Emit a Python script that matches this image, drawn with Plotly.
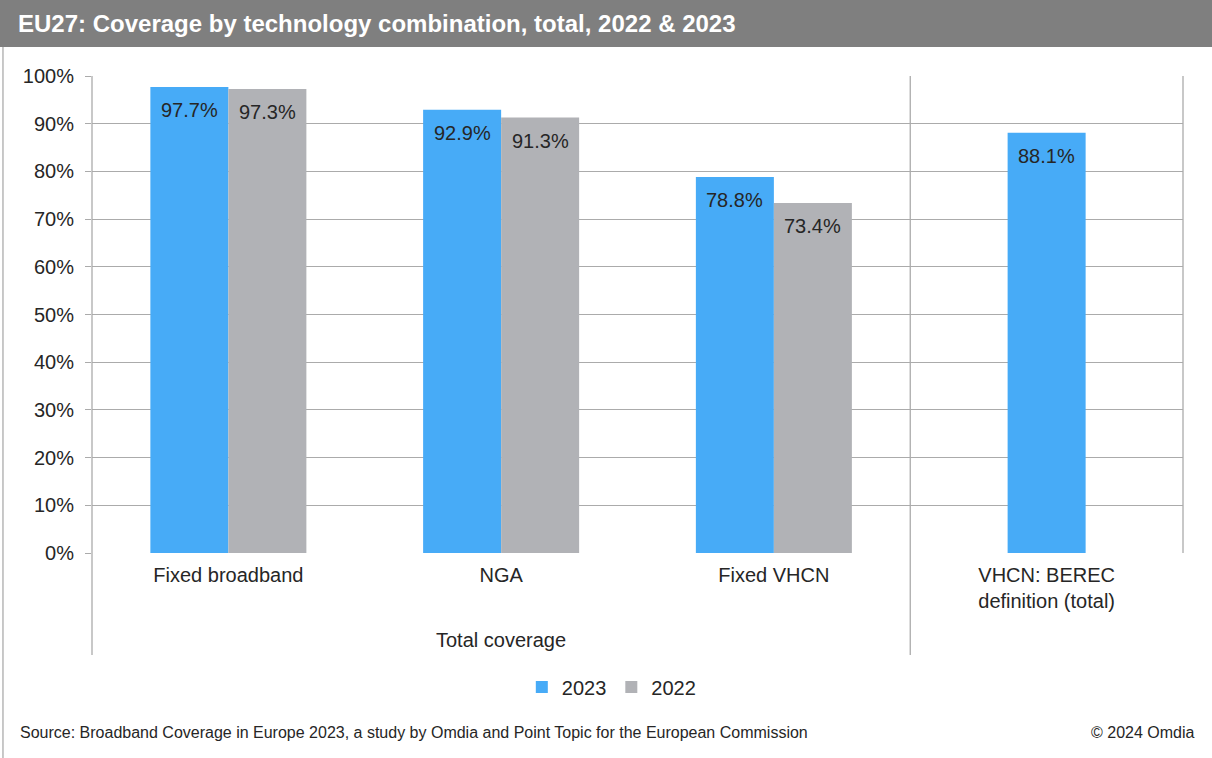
import plotly.graph_objects as go

# Coverage categories and values (% of households)
categories = ["Fixed broadband", "NGA", "Fixed VHCN", "VHCN: BEREC<br>definition (total)"]
cov_2023 = [97.7, 92.9, 78.8, 88.1]
cov_2022 = [97.3, 91.3, 73.4, None]
y_ticks = [0, 10, 20, 30, 40, 50, 60, 70, 80, 90, 100]

BLUE = "#47abf7"
GREY = "#b1b2b6"
TEXT = "#262626"
LINE = "#ababab"
FONT = "Liberation Sans, Arial, sans-serif"
NARROW = "Liberation Sans Narrow, Arial Narrow, Liberation Sans, sans-serif"
FS = 20

W = 0.286  # bar width in category units
xs = list(range(len(categories)))

# 2023 sits left of centre where a 2022 bar exists, centred otherwise
off_2023 = [-W if v is not None else -W / 2 for v in cov_2022]
off_2022 = [0.0 for _ in cov_2022]

fig = go.Figure()
fig.add_trace(go.Bar(x=xs, y=cov_2023, name="2023", marker_color=BLUE,
                     width=W, offset=off_2023, marker_line_width=0))
fig.add_trace(go.Bar(x=xs, y=cov_2022, name="2022", marker_color=GREY,
                     width=W, offset=off_2022, marker_line_width=0))

annotations = []
for series, offsets in ((cov_2023, off_2023), (cov_2022, off_2022)):
    for i, (v, o) in enumerate(zip(series, offsets)):
        if v is None:
            continue
        annotations.append(dict(x=i + o + W / 2, y=v, xref="x", yref="y", text=f"{v:.1f}%",
                                showarrow=False, yshift=-23,
                                font=dict(family=FONT, size=FS, color=TEXT)))

# Group label and footer
annotations.append(dict(x=1, y=-0.182, xref="x", yref="paper", text="Total coverage", showarrow=False,
                        yanchor="middle", font=dict(family=FONT, size=FS, color=TEXT)))
annotations.append(dict(x=-0.0678, y=-0.377, xref="paper", yref="paper", xanchor="left", yanchor="middle",
                        text="Source: Broadband Coverage in Europe 2023, a study by Omdia and Point Topic for the European Commission",
                        showarrow=False, font=dict(family=NARROW, size=16, color=TEXT)))
annotations.append(dict(x=1.0128, y=-0.377, xref="paper", yref="paper", xanchor="right", yanchor="middle",
                        text="© 2024 Omdia", showarrow=False, font=dict(family=NARROW, size=16, color=TEXT)))

shapes = [
    # title band
    dict(type="rect", xref="paper", yref="paper", x0=-0.1, x1=1.05, y0=1.0608, y1=1.2,
         fillcolor="#7f7f7f", line_width=0, layer="below"),
    # outer left frame
    dict(type="line", xref="paper", yref="paper", x0=-0.0816, x1=-0.0816, y0=-0.44, y1=1.0608,
         line=dict(color=LINE, width=1.3)),
    # left axis extended under category labels
    dict(type="line", xref="paper", yref="paper", x0=0, x1=0, y0=-0.214, y1=1,
         line=dict(color=LINE, width=1.3)),
    # divider between group sections
    dict(type="line", xref="x", yref="paper", x0=2.5, x1=2.5, y0=-0.214, y1=1,
         line=dict(color=LINE, width=1.3)),
    # right plot border
    dict(type="line", xref="paper", yref="paper", x0=1, x1=1, y0=0, y1=1,
         line=dict(color=LINE, width=1.3)),
]

fig.update_layout(
    width=1212, height=758,
    margin=dict(l=92, r=29, t=76, b=205),
    paper_bgcolor="white", plot_bgcolor="white",
    barmode="overlay",
    title=dict(text="<b>EU27: Coverage by technology combination, total, 2022 &amp; 2023</b>",
               x=18 / 1212, xanchor="left", xref="container",
               y=1 - 24 / 758, yanchor="middle", yref="container",
               font=dict(family=NARROW, size=24, color="white")),
    showlegend=True,
    legend=dict(orientation="h", x=0.476, xanchor="center", y=-0.281, yanchor="middle",
                font=dict(family=FONT, size=FS, color=TEXT), itemwidth=30,
                traceorder="normal"),
    xaxis=dict(range=[-0.5, 3.5], tickvals=xs, ticktext=categories, showgrid=False,
               zeroline=False, showline=False, ticks="", fixedrange=True,
               ticklabelstandoff=8,
               tickfont=dict(family=FONT, size=FS, color=TEXT)),
    yaxis=dict(range=[0, 100], tickvals=y_ticks, ticktext=[f"{t}%" for t in y_ticks],
               showgrid=True, gridcolor=LINE, gridwidth=1.3, zeroline=False,
               showline=False, ticks="outside", ticklen=6, tickcolor=LINE, tickwidth=1.3,
               ticklabelstandoff=7,
               tickfont=dict(family=FONT, size=FS, color=TEXT)),
    annotations=annotations,
    shapes=shapes,
)

fig.write_html("out.html")
